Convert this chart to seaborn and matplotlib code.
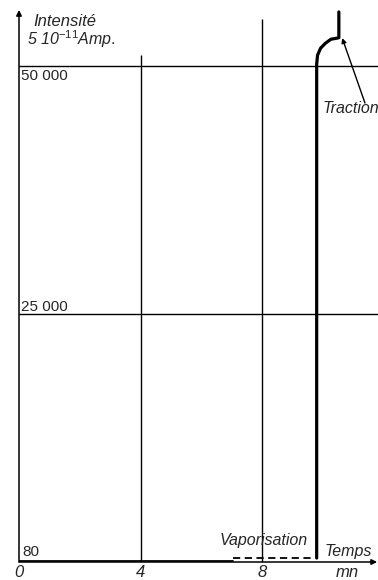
import numpy as np
import pandas as pd
import seaborn as sns
import matplotlib.pyplot as plt

# data (time in minutes, intensity in 5e-11 A)
base_t = [0.0, 7.05]
base_i = [80, 80]
vap_t = [7.05, 9.62]
vap_i = [420, 420]
trac_t = [9.8, 9.8, 9.83, 9.93, 10.09, 10.27, 10.46, 10.53, 10.53]
trac_i = [400, 50200, 51100, 51800, 52300, 52700, 52800, 52850, 55450]

hlines = [25000, 50000]
hlabels = ["25 000", "50 000"]
vlines_t = [4, 8]
vlines_top = [51100, 54750]
xticks = [0, 4, 8]
xticklabels = ["0", "4", "8"]

sns.set_style("white")
plt.rcParams['font.family'] = ['Liberation Sans', 'DejaVu Sans']
plt.rcParams['mathtext.fontset'] = 'custom'
plt.rcParams['mathtext.it'] = 'Liberation Sans:italic'
plt.rcParams['mathtext.rm'] = 'Liberation Sans'

fig = plt.figure(figsize=(3.78, 5.80), dpi=100)
ax = fig.add_axes([19 / 378, 18 / 580, 1 - 19 / 378, 562 / 580])
xmax = 359 / 30.375
ymax = 56653
ax.set_xlim(0, xmax)
ax.set_ylim(0, ymax)
for s in ax.spines.values():
    s.set_visible(False)

# grid lines
for h in hlines:
    ax.plot([0, xmax], [h, h], color="black", lw=1.0)
ax.vlines(vlines_t, 0, vlines_top, color="black", lw=1.0)

# curve
sns.lineplot(x=base_t, y=base_i, color="black", lw=1.3, ax=ax, estimator=None)
sns.lineplot(x=vap_t, y=vap_i, color="black", lw=1.3, ax=ax, estimator=None,
             linestyle=(0, (4, 2.5)))
sns.lineplot(x=trac_t, y=trac_i, color="black", lw=2.3, ax=ax, estimator=None,
             sort=False)

# axes with arrows
arr = dict(arrowstyle="-|>", lw=1.1, color="black", mutation_scale=8, shrinkA=0, shrinkB=0)
ax.annotate("", xy=(0, 55650), xytext=(0, 0), arrowprops=arr, annotation_clip=False)
ax.annotate("", xy=(11.79, 0), xytext=(0, 0), arrowprops=arr, annotation_clip=False)

ax.set_xticks(xticks)
ax.set_xticklabels(xticklabels, fontstyle="italic", fontsize=12)
ax.tick_params(axis="x", length=0, pad=2)
ax.set_yticks([])
ax.set_xlabel("")
ax.set_ylabel("")

# labels
ax.text(0.07, 49650, hlabels[1], fontsize=11, va="top", ha="left")
ax.text(0.07, 25300, hlabels[0], fontsize=11, va="baseline", ha="left")
ax.text(0.1, 600, "80", fontsize=11, va="baseline", ha="left")
ax.text(0.46, 54050, "Intensité", fontsize=12, style="italic", va="baseline")
ax.text(0.26, 52150, r"5 10$^{\mathit{-11}}$$\mathit{Amp.}$", fontsize=11.5,
        style="italic", va="baseline")
ax.text(6.62, 1714, "Vaporisation", fontsize=11.5, style="italic", va="baseline")
ax.text(10.07, 605, "Temps", fontsize=11.5, style="italic", va="baseline")
ax.text(10.8, -1550, "mn", fontsize=12, style="italic", va="baseline", ha="center")
ax.text(10.0, 45260, "Traction", fontsize=11.5, style="italic", va="baseline")
ax.annotate("", xy=(10.64, 52820), xytext=(11.39, 46270),
            arrowprops=dict(arrowstyle="-|>", lw=1.0, color="black",
                            mutation_scale=7, shrinkA=0, shrinkB=0))

plt.savefig("out.png", dpi=100)
